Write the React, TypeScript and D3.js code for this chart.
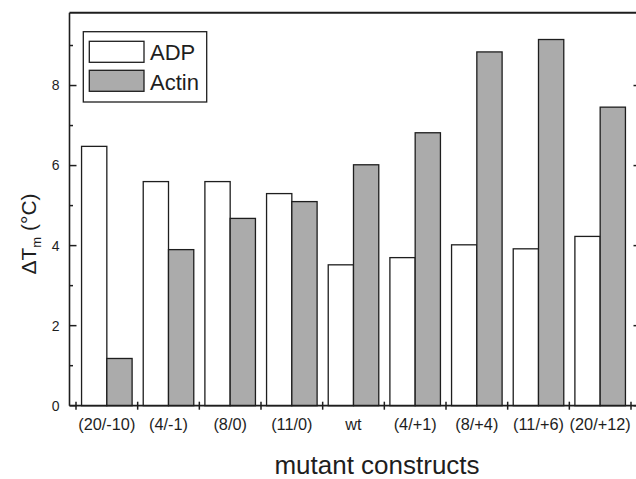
import React from "react";
import * as d3 from "d3";

const categories = ["(20/-10)", "(4/-1)", "(8/0)", "(11/0)", "wt", "(4/+1)", "(8/+4)", "(11/+6)", "(20/+12)"];
const series = ["ADP", "Actin"];
const adpValues = [6.48, 5.6, 5.6, 5.3, 3.52, 3.7, 4.02, 3.92, 4.23];
const actinValues = [1.18, 3.9, 4.68, 5.1, 6.02, 6.82, 8.84, 9.15, 7.46];
const yMajorTicks = [0, 2, 4, 6, 8];
const yMinorTicks = [1, 3, 5, 7, 9];

const W = 636;
const H = 479;
const FONT = "'Liberation Sans', Arial, Helvetica, sans-serif";
const INK = "#1e1e1e";
const FILLS: Record<string, string> = { ADP: "#ffffff", Actin: "#ababab" };

export default function App() {
  const left = 69.5;
  const right = 637.5;
  const top = 12.7;
  const bottom = 405.7;

  const x = d3.scaleBand<string>().domain(categories).range([76, 631]).paddingInner(0).paddingOuter(0);
  const xs = d3.scaleBand<string>().domain(series).range([0, x.bandwidth()]).paddingInner(0).paddingOuter(0.22);
  const y = d3.scaleLinear().domain([0, 9.82]).range([bottom, top]);

  const data = categories.map((c, i) => ({ c, ADP: adpValues[i], Actin: actinValues[i] }));
  const boundaries = categories.map((c) => x(c)!).concat([x(categories[categories.length - 1])! + x.bandwidth()]);

  return (
    <svg width={W} height={H} style={{ position: "absolute", left: 0, top: 0, background: "#fff" }} fontFamily={FONT}>
      {/* bars */}
      {data.map((d) =>
        series.map((s) => {
          const v = (d as any)[s] as number;
          return (
            <rect
              key={d.c + s}
              x={x(d.c)! + xs(s)!}
              y={y(v)}
              width={xs.bandwidth()}
              height={y(0) - y(v)}
              fill={FILLS[s]}
              stroke={INK}
              strokeWidth={1.3}
            />
          );
        })
      )}

      {/* frame */}
      <line x1={left} x2={left} y1={top} y2={bottom} stroke={INK} strokeWidth={1.6} />
      <line x1={left} x2={right} y1={top} y2={top} stroke={INK} strokeWidth={2} />
      <line x1={left} x2={right} y1={bottom} y2={bottom} stroke={INK} strokeWidth={1.8} />
      <line x1={right} x2={right} y1={top} y2={bottom} stroke={INK} strokeWidth={1.6} />

      {/* y ticks */}
      {yMajorTicks.map((t) => (
        <g key={"M" + t}>
          <line x1={left} x2={left + 7} y1={y(t)} y2={y(t)} stroke={INK} strokeWidth={1.5} />
          <line x1={right - 4} x2={right} y1={y(t)} y2={y(t)} stroke={INK} strokeWidth={1.5} />
          <text x={left - 10} y={y(t)} dy="0.35em" textAnchor="end" fontSize={14} fill={INK}>
            {t}
          </text>
        </g>
      ))}
      {yMinorTicks.map((t) => (
        <line key={"m" + t} x1={left} x2={left + 3.5} y1={y(t)} y2={y(t)} stroke={INK} strokeWidth={1.5} />
      ))}

      {/* x ticks */}
      {boundaries.map((b, i) => (
        <line key={"b" + i} x1={b} x2={b} y1={bottom - 4} y2={bottom + 4} stroke={INK} strokeWidth={1.5} />
      ))}
      {categories.map((c) => (
        <text key={"l" + c} x={x(c)! + x.bandwidth() / 2} y={429.5} textAnchor="middle" fontSize={16.3} fill={INK}>
          {c}
        </text>
      ))}

      {/* axis titles */}
      <text x={377} y={473.5} textAnchor="middle" fontSize={26} fill={INK}>
        mutant constructs
      </text>
      <text transform="translate(36,234) rotate(-90)" textAnchor="middle" fontSize={21} fill={INK}>
        ΔT
        <tspan fontSize={13} dy={5}>m</tspan>
        <tspan dy={-5}> (°C)</tspan>
      </text>

      {/* legend */}
      <rect x={83.3} y={31.7} width={123.4} height={70.3} fill="#fff" stroke={INK} strokeWidth={1.3} />
      {series.map((s, i) => (
        <g key={"lg" + s}>
          <rect x={89.3} y={41.3 + i * 29} width={54.7} height={21} fill={FILLS[s]} stroke={INK} strokeWidth={1.3} />
          <text x={150} y={60 + i * 29.5} fontSize={22} fill={INK}>
            {s}
          </text>
        </g>
      ))}
    </svg>
  );
}
